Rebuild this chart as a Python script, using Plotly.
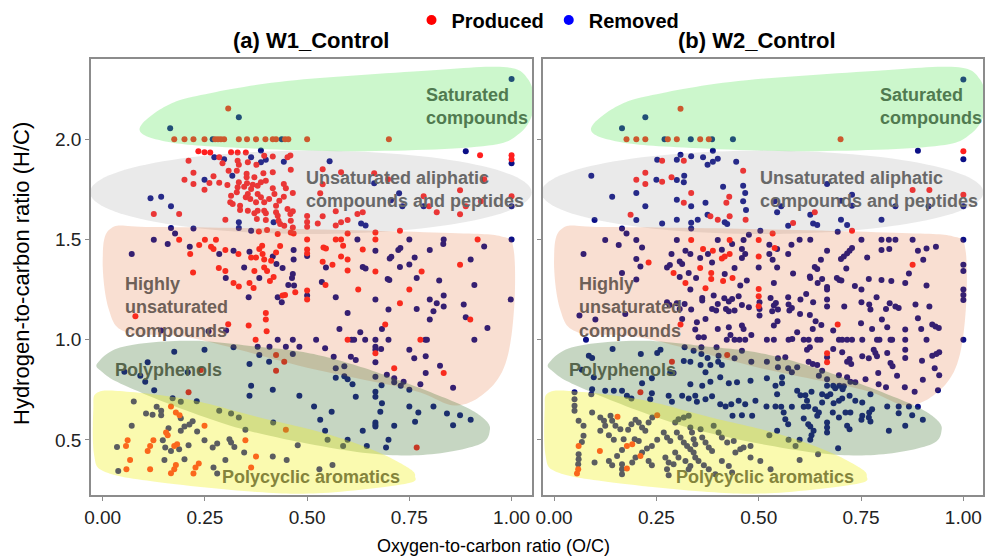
import numpy as np
import plotly.graph_objects as go

# ---------------- data (O/C, H/C) ----------------
w1_produced = [
    (0.307,2.153),(0.175,2.0),(0.2,2.0),(0.222,2.0),(0.249,2.0),(0.275,2.0),(0.282,2.0),(0.289,2.0),(0.297,2.0),
    (0.333,2.0),(0.353,2.0),(0.375,2.0),(0.398,2.0),(0.416,2.0),(0.424,2.0),(0.446,2.0),(0.454,2.0),(0.5,2.0),(0.7,2.0),
    (0.923,1.92),(1.0,1.92),(1.0,1.90),(0.538,1.85),(0.583,1.835),(0.664,1.83),(0.698,1.80),(0.933,1.80),(0.538,1.775),
    (0.532,1.73),(0.874,1.745),(0.785,1.715),(0.798,1.665),(0.817,1.635),(0.874,1.625),(0.888,1.665),(1.0,1.715),
    (0.925,1.69),(0.538,1.615),(0.57,1.64),(0.526,1.58),(0.57,1.57),(0.583,1.585),(0.599,1.597),(0.623,1.627),
    (0.636,1.635),(0.599,1.53),(0.667,1.535),(0.667,1.50),(0.57,1.5),(0.583,1.5),(0.727,1.543),(0.917,1.5),(0.54,1.46),
    (0.546,1.455),(0.588,1.468),(0.636,1.45),(0.583,1.415),(0.599,1.40),(0.538,1.388),(0.562,1.373),(0.599,1.345),
    (0.874,1.373),(0.667,1.34),(0.78,1.34),
    (0.234,1.94),(0.249,1.935),(0.263,1.933),(0.314,1.935),(0.33,1.933),(0.35,1.933),(0.395,1.917),(0.416,1.913),
    (0.459,1.918),(0.21,1.893),(0.285,1.91),(0.293,1.88),(0.33,1.893),(0.333,1.873),(0.355,1.885),(0.376,1.872),
    (0.416,1.835),(0.452,1.91),(0.46,1.847),(0.222,1.832),(0.308,1.843),(0.328,1.843),(0.352,1.827),(0.352,1.81),
    (0.371,1.81),(0.393,1.83),(0.271,1.815),(0.261,1.782),(0.285,1.783),(0.2,1.798),(0.222,1.777),(0.305,1.772),
    (0.333,1.785),(0.33,1.76),(0.328,1.735),(0.353,1.78),(0.346,1.763),(0.367,1.773),(0.379,1.768),(0.387,1.785),
    (0.399,1.793),(0.363,1.752),(0.355,1.727),(0.35,1.71),(0.361,1.702),(0.416,1.755),(0.42,1.727),(0.443,1.777),
    (0.448,1.755),(0.465,1.732),(0.249,1.748),(0.314,1.718),(0.379,1.727),(0.387,1.71),(0.375,1.685),(0.395,1.685),
    (0.407,1.702),(0.424,1.668),(0.432,1.693),(0.443,1.713),(0.312,1.685),(0.318,1.677),(0.336,1.668),(0.336,1.647),
    (0.355,1.643),(0.371,1.63),(0.379,1.643),(0.395,1.643),(0.399,1.63),(0.424,1.635),(0.428,1.618),(0.43,1.593),
    (0.452,1.652),(0.459,1.627),(0.465,1.64),(0.125,1.627),(0.187,1.627),(0.3,1.598),(0.377,1.602),(0.399,1.597),
    (0.434,1.577),(0.444,1.568),(0.46,1.593),(0.465,1.56),(0.382,1.54),(0.402,1.547),(0.428,1.527),(0.46,1.535),
    (0.467,1.53),(0.5,1.617),(0.5,1.587),(0.5,1.563),(0.5,1.5),(0.5,1.45),(0.5,1.43),
    (0.187,1.498),(0.214,1.427),(0.236,1.472),(0.25,1.498),(0.265,1.463),(0.271,1.452),(0.277,1.498),(0.3,1.447),
    (0.332,1.427),(0.363,1.41),(0.375,1.41),(0.383,1.452),(0.39,1.468),(0.391,1.427),(0.395,1.40),(0.412,1.393),
    (0.424,1.435),(0.434,1.467),(0.221,1.335),(0.284,1.357),(0.3,1.343),(0.371,1.343),(0.395,1.36),(0.402,1.343),
    (0.32,1.283),(0.333,1.265),(0.359,1.283),(0.369,1.258),(0.409,1.292),(0.418,1.312),(0.44,1.22),(0.446,1.223),
    (0.471,1.237),(0.5,1.245),(0.5,1.2),(0.08,1.117),(0.399,1.133),(0.399,1.10),(0.401,1.042),(0.357,1.07),
    (0.307,1.077),(0.374,1.0),(0.424,0.923),(0.444,0.89),(0.424,0.845),(0.24,0.848),(0.21,0.737),(0.167,0.667),
    (0.179,0.637),(0.188,0.623),(0.155,0.537),(0.159,0.523),(0.249,0.57),(0.061,0.498),(0.057,0.47),(0.124,0.498),
    (0.116,0.47),(0.11,0.445),(0.175,0.47),(0.182,0.478),(0.349,0.498),(0.448,0.55),(0.375,0.417),(0.067,0.40),
    (0.179,0.375),(0.175,0.353),(0.235,0.382),(0.227,0.362),(0.058,0.353),(0.116,0.353),(0.167,0.333),(0.222,0.332),
    (0.363,0.362),
    (0.545,1.273),(0.625,1.25),(0.75,1.25),(0.727,1.182),(0.899,1.10),(0.691,1.075),(0.599,1.0),(0.777,1.0),
    (0.667,0.932),(0.713,0.857),(0.834,0.833),(0.768,0.462),
]

w1_removed = [
    (0.333,2.11),(0.165,2.055),(1.0,2.3),(0.269,2.0),(0.438,2.0),
    (0.888,1.94),(1.0,1.88),(0.555,1.89),(0.664,1.78),(0.725,1.73),(0.733,1.665),(0.785,1.665),(1.0,1.665),
    (0.705,1.695),(0.632,1.58),(0.643,1.57),(0.623,1.5),(0.75,1.5),(0.834,1.5),(1.0,1.5),(0.933,1.465),(0.667,1.443),
    (0.723,1.447),(0.728,1.457),(0.80,1.447),(0.833,1.477),(0.702,1.405),(0.706,1.413),(0.763,1.41),(0.546,1.36),
    (0.636,1.363),(0.643,1.355),(0.727,1.363),(0.75,1.375),(0.9,1.40),
    (0.273,1.91),(0.387,1.943),(0.363,1.91),(0.297,1.90),(0.387,1.885),(0.399,1.897),(0.443,1.887),(0.317,1.818),
    (0.249,1.798),(0.117,1.705),(0.143,1.713),(0.167,1.665),(0.333,1.585),(0.333,1.557),(0.418,1.585),(0.363,1.543),
    (0.167,1.557),(0.177,1.53),(0.222,1.555),
    (0.125,1.498),(0.071,1.427),(0.159,1.477),(0.213,1.463),(0.285,1.427),(0.32,1.443),(0.359,1.438),(0.416,1.415),
    (0.467,1.447),(0.467,1.40),(0.346,1.36),(0.425,1.377),(0.44,1.357),(0.465,1.327),(0.5,1.417),
    (0.301,1.307),(0.357,1.212),(0.383,1.307),(0.428,1.212),(0.438,1.187),(0.454,1.273),(0.463,1.307),(0.468,1.27),
    (0.5,1.22),(0.302,1.045),(0.259,1.042),(0.143,1.045),(0.379,0.965),(0.408,0.965),(0.428,1.0),(0.448,0.965),
    (0.465,1.0),(0.481,0.965),(0.465,0.928),(0.407,0.89),(0.383,0.923),(0.32,0.962),(0.249,0.95),(0.175,0.94),
    (0.053,0.84),(0.11,0.887),(0.092,0.82),(0.104,0.79),(0.126,0.748),(0.208,0.837),(0.359,0.878),(0.363,0.77),
    (0.359,0.72),(0.416,0.75),(0.481,0.72),(0.23,0.693),(0.171,0.708),(0.191,0.69),(0.076,0.692),(0.132,0.665),
    (0.143,0.645),(0.106,0.632),(0.122,0.625),(0.143,0.623),(0.191,0.608),(0.285,0.645),(0.314,0.632),(0.333,0.612),
    (0.22,0.593),(0.212,0.577),(0.2,0.567),(0.191,0.545),(0.071,0.57),(0.161,0.558),(0.231,0.542),(0.349,0.55),
    (0.035,0.465),(0.147,0.498),(0.153,0.462),(0.167,0.445),(0.187,0.453),(0.21,0.473),(0.249,0.498),(0.269,0.462),
    (0.28,0.482),(0.31,0.503),(0.314,0.487),(0.322,0.465),(0.417,0.587),(0.346,0.437),(0.416,0.417),(0.45,0.40),
    (0.477,0.473),(0.151,0.40),(0.2,0.403),(0.3,0.40),(0.038,0.345),(0.271,0.362),(0.28,0.332),
    (0.536,1.287),(0.697,1.303),(0.701,1.298),(0.768,1.307),(0.823,1.295),(0.909,1.273),(0.57,1.212),(0.667,1.20),
    (0.8,1.20),(0.817,1.182),(0.834,1.22),(0.834,1.165),(0.883,1.175),(0.998,1.20),(0.599,1.133),(0.699,1.15),
    (0.768,1.153),(0.809,1.142),(0.8,1.10),(0.888,1.112),(0.941,1.058),(0.579,1.053),(0.683,1.053),(0.63,1.037),
    (0.522,1.0),(0.609,1.0),(0.615,1.0),(0.642,1.0),(0.667,1.0),(0.699,1.0),(0.789,1.0),(0.793,1.0),(0.909,1.0),
    (0.544,0.957),(0.667,0.965),(0.667,0.95),(0.681,0.953),(0.75,0.95),(0.565,0.915),(0.607,0.915),(0.619,0.898),
    (0.667,0.887),(0.762,0.907),(0.79,0.917),(0.591,0.867),(0.57,0.857),(0.825,0.87),(0.79,0.833),(0.57,0.81),
    (0.591,0.817),(0.599,0.803),(0.611,0.778),(0.667,0.815),(0.695,0.825),(0.713,0.808),(0.713,0.787),(0.729,0.77),
    (0.736,0.79),(0.75,0.75),(0.777,0.778),(0.857,0.76),(0.682,0.773),(0.667,0.74),(0.667,0.715),(0.619,0.715),
    (0.517,0.667),(0.683,0.683),(0.75,0.667),(0.809,0.667),(0.56,0.64),(0.679,0.64),(0.772,0.637),(0.842,0.632),
    (0.874,0.623),(0.9,0.60),(0.532,0.60),(0.667,0.587),(0.667,0.575),(0.667,0.567),(0.713,0.57),(0.764,0.59),
    (0.857,0.573),(0.544,0.545),(0.636,0.545),(0.599,0.5),(0.699,0.5),(0.55,0.5),(0.588,0.47),(0.646,0.47),
    (0.693,0.462),(0.53,0.353),(0.562,0.375),
]

w2_produced = [
    (0.309,2.152),(0.177,2.0),(0.201,2.0),(0.223,2.0),(0.278,2.0),(0.3,2.0),(0.357,2.0),(0.378,2.0),(0.7,2.0),
    (1.0,1.94),(0.876,1.747),(0.917,1.747),(1.0,1.723),(0.637,1.635),(0.584,1.582),(0.534,1.53),(0.539,1.457),
    (0.728,1.543),(0.876,1.373),
    (0.264,1.892),(0.317,1.893),(0.462,1.843),(0.223,1.832),(0.201,1.798),(0.223,1.777),(0.264,1.788),(0.287,1.81),
    (0.335,1.732),(0.317,1.683),(0.428,1.713),(0.421,1.683),(0.187,1.623),(0.382,1.615),(0.4,1.598),(0.429,1.615),
    (0.468,1.598),(0.5,1.497),(0.231,1.385),(0.335,1.497),(0.429,1.497),(0.364,1.452),(0.388,1.443),(0.41,1.405),
    (0.417,1.415),(0.429,1.427),(0.5,1.415),(0.292,1.332),(0.357,1.357),(0.384,1.332),(0.5,1.167),
    (0.321,1.283),(0.384,1.303),(0.413,1.292),(0.436,1.308),(0.5,1.253),(0.5,1.217),(0.37,1.257),
    (0.309,1.075),(0.423,0.923),(0.288,0.89),(0.211,0.737),(0.155,0.615),(0.252,0.623),(0.191,0.478),(0.178,0.47),
    (0.112,0.445),(0.06,0.47),(0.059,0.353),(0.056,0.332),(0.178,0.357),(0.211,0.42),
    (0.693,1.075),(0.667,0.932),(0.667,0.887),
]

w2_removed = [
    (0.223,2.11),(0.166,2.055),(0.27,2.0),(0.334,2.0),(0.386,2.0),(0.437,2.0),
    (0.388,1.942),(0.252,1.898),(0.30,1.898),(0.309,1.922),(0.335,1.915),(0.364,1.91),(0.375,1.873),(0.388,1.888),
    (0.40,1.902),(0.445,1.888),(0.091,1.817),(0.25,1.798),(0.30,1.797),(0.318,1.818),(0.317,1.785),(0.413,1.763),
    (0.462,1.768),(0.142,1.713),(0.201,1.732),(0.30,1.698),(0.335,1.665),(0.37,1.683),(0.467,1.732),(0.462,1.69),
    (0.223,1.665),(0.201,1.597),(0.099,1.597),(0.375,1.623),(0.469,1.647),(0.264,1.58),(0.30,1.598),(0.335,1.583),
    (0.335,1.555),(0.351,1.598),(0.417,1.585),(0.423,1.577),(0.166,1.555),(0.177,1.53),(0.476,1.523),(0.504,1.543),
    (0.125,1.497),(0.158,1.472),(0.201,1.497),(0.215,1.46),(0.072,1.427),(0.201,1.402),(0.211,1.365),(0.166,1.332),
    (0.30,1.497),(0.4,1.497),(0.463,1.497),(0.287,1.427),(0.321,1.443),(0.333,1.427),(0.357,1.407),(0.376,1.427),
    (0.41,1.448),(0.435,1.477),(0.459,1.452),(0.459,1.407),(0.467,1.427),(0.5,1.36),(0.283,1.372),(0.276,1.36),
    (0.307,1.39),(0.313,1.377),(0.329,1.332),(0.386,1.385),(0.441,1.357),(0.417,1.327),
    (1.0,2.298),(0.889,1.942),(1.0,1.90),(0.667,1.777),(1.0,1.665),(0.728,1.723),(0.701,1.693),(0.728,1.668),
    (0.539,1.69),(0.555,1.665),(0.545,1.635),(0.626,1.623),(0.633,1.58),(0.643,1.572),(0.572,1.568),(0.701,1.598),
    (0.716,1.572),(0.693,1.538),(0.8,1.598),(0.915,1.665),(0.834,1.665),
    (0.6,1.498),(0.626,1.498),(0.751,1.498),(0.8,1.498),(0.818,1.498),(0.834,1.498),(0.876,1.498),(1.0,1.498),
    (0.526,1.473),(0.545,1.452),(0.58,1.473),(0.572,1.427),(0.667,1.443),(0.701,1.402),(0.708,1.415),(0.716,1.43),
    (0.722,1.443),(0.728,1.457),(0.8,1.447),(0.819,1.452),(0.889,1.443),(0.91,1.455),(0.933,1.463),(0.526,1.427),
    (0.534,1.398),(0.652,1.398),(0.765,1.41),(0.902,1.398),(1.0,1.373),(1.0,1.343),(0.545,1.36),(0.637,1.363),
    (0.643,1.352),(0.714,1.355),(0.584,1.33),(0.625,1.315),(0.867,1.33),
    (0.201,1.30),(0.307,1.312),(0.347,1.307),(0.455,1.27),(0.471,1.295),(0.333,1.25),(0.362,1.208),(0.362,1.195),
    (0.39,1.22),(0.416,1.207),(0.427,1.19),(0.435,1.203),(0.451,1.217),(0.4,1.178),(0.276,1.187),(0.282,1.173),
    (0.30,1.182),(0.307,1.153),(0.319,1.178),(0.062,1.12),(0.101,1.10),(0.174,1.128),(0.313,1.103),(0.335,1.15),
    (0.37,1.103),(0.386,1.153),(0.396,1.145),(0.42,1.153),(0.427,1.142),(0.441,1.145),(0.459,1.173),(0.476,1.162),
    (0.502,1.187),(0.502,1.153),(0.502,1.12),(0.345,1.05),(0.349,1.087),(0.366,1.012),(0.353,1.012),(0.4,1.053),
    (0.427,1.062),(0.431,1.023),(0.422,1.0),(0.441,1.0),(0.453,1.0),(0.467,1.0),(0.459,1.07),(0.463,1.053),
    (0.482,1.023),(0.078,1.0),(0.143,0.953),(0.212,0.928),(0.26,0.95),(0.252,0.933),(0.319,0.962),(0.341,0.945),
    (0.36,0.962),(0.36,0.928),(0.375,0.908),(0.397,0.962),(0.402,0.92),(0.441,0.907),(0.459,0.945),(0.482,0.89),
    (0.085,0.92),(0.093,0.908),(0.068,0.85),(0.284,0.837),(0.292,0.833),(0.317,0.893),(0.333,0.89),(0.358,0.873),
    (0.37,0.837),(0.382,0.873),(0.401,0.89),(0.41,0.873),(0.097,0.812),(0.215,0.783),(0.239,0.807),(0.333,0.778),
    (0.362,0.77),(0.382,0.79),(0.406,0.812),(0.427,0.783),(0.447,0.787),(0.48,0.795),(0.093,0.753),(0.125,0.745),
    (0.146,0.745),(0.166,0.745),(0.178,0.72),(0.189,0.707),(0.239,0.733),(0.235,0.703),(0.28,0.72),(0.288,0.69),
    (0.313,0.72),(0.329,0.707),(0.345,0.72),(0.349,0.69),(0.37,0.703),(0.386,0.717),(0.406,0.678),(0.419,0.667),
    (0.433,0.678),(0.451,0.695),(0.467,0.678),(0.492,0.695),(0.436,0.62),(0.459,0.623),(0.484,0.62),
    (0.05,0.737),(0.05,0.703),(0.05,0.67),(0.05,0.645),(0.06,0.595),(0.091,0.728),(0.093,0.637),(0.113,0.612),
    (0.122,0.595),(0.125,0.57),(0.138,0.62),(0.142,0.595),(0.15,0.57),(0.113,0.545),(0.134,0.523),(0.146,0.50),
    (0.162,0.553),(0.17,0.503),(0.181,0.55),(0.189,0.578),(0.199,0.60),(0.207,0.587),(0.215,0.562),(0.223,0.545),
    (0.231,0.587),(0.24,0.612),(0.197,0.503),(0.207,0.495),(0.166,0.45),(0.154,0.42),(0.134,0.395),(0.142,0.373),
    (0.072,0.57),(0.072,0.52),(0.068,0.49),(0.06,0.428),(0.06,0.403),(0.059,0.378),(0.099,0.387),(0.166,0.378),
    (0.166,0.353),(0.166,0.328),(0.199,0.412),(0.191,0.387),(0.215,0.437),(0.227,0.457),(0.239,0.47),(0.252,0.50),
    (0.268,0.537),(0.276,0.512),(0.284,0.495),(0.296,0.587),(0.304,0.603),(0.317,0.612),(0.329,0.62),(0.3,0.537),
    (0.309,0.512),(0.317,0.487),(0.325,0.47),(0.333,0.453),(0.333,0.562),(0.337,0.537),(0.341,0.503),(0.345,0.478),
    (0.341,0.437),(0.345,0.412),(0.358,0.553),(0.362,0.512),(0.37,0.487),(0.378,0.462),(0.386,0.445),(0.39,0.57),
    (0.402,0.537),(0.41,0.512),(0.423,0.487),(0.439,0.495),(0.455,0.453),(0.48,0.412),(0.504,0.395),(0.443,0.437),
    (0.463,0.462),(0.48,0.47),(0.272,0.412),(0.28,0.387),(0.292,0.378),(0.276,0.353),(0.28,0.323),(0.231,0.395),
    (0.239,0.373),(0.296,0.437),(0.304,0.412),(0.321,0.395),(0.333,0.37),(0.353,0.395),(0.366,0.373),(0.378,0.353),
    (0.394,0.328),(0.41,0.395),(0.427,0.37),(0.435,0.337),(0.329,0.353),
    (0.537,1.283),(0.626,1.307),(0.655,1.303),(0.644,1.283),(0.667,1.262),(0.667,1.25),(0.691,1.307),(0.697,1.298),
    (0.702,1.295),(0.735,1.267),(0.751,1.25),(0.769,1.303),(0.8,1.298),(0.824,1.292),(0.858,1.283),(0.91,1.27),
    (1.0,1.25),(1.0,1.223),(1.0,1.198),(0.529,1.208),(0.542,1.183),(0.547,1.15),(0.537,1.17),(0.533,1.142),
    (0.572,1.212),(0.573,1.175),(0.602,1.2),(0.616,1.228),(0.581,1.158),(0.575,1.145),(0.633,1.187),(0.667,1.2),
    (0.667,1.165),(0.709,1.165),(0.751,1.187),(0.77,1.175),(0.773,1.15),(0.788,1.212),(0.811,1.153),(0.82,1.182),
    (0.834,1.165),(0.842,1.158),(0.883,1.175),(0.917,1.165),(0.601,1.128),(0.625,1.123),(0.546,1.092),(0.537,1.07),
    (0.639,1.092),(0.653,1.073),(0.75,1.082),(0.801,1.10),(0.814,1.062),(0.858,1.05),(0.889,1.107),(0.897,1.053),
    (0.924,1.075),(0.932,1.065),(0.94,1.058),(0.632,1.053),(0.594,1.037),(0.582,1.003),(0.682,1.045),(0.777,1.053),
    (0.52,1.0),(0.537,1.0),(0.573,1.0),(0.61,1.0),(0.622,1.0),(0.643,1.0),(0.651,1.0),(0.696,1.0),(0.704,1.0),
    (0.716,1.0),(0.728,1.0),(0.753,1.0),(0.789,1.0),(0.795,1.0),(0.822,1.0),(0.826,1.0),(0.858,1.0),(0.91,1.0),
    (1.0,1.0),(0.625,0.962),(0.618,0.95),(0.667,0.912),(0.682,0.953),(0.704,0.937),(0.716,0.89),(0.722,0.903),
    (0.726,0.878),(0.753,0.917),(0.769,0.907),(0.785,0.933),(0.789,0.917),(0.781,0.95),(0.814,0.933),(0.822,0.883),
    (0.827,0.867),(0.858,0.95),(0.858,0.908),(0.899,0.895),(0.924,0.92),(0.934,0.928),(0.941,0.937),(0.52,0.89),
    (0.547,0.907),(0.565,0.912),(0.547,0.862),(0.572,0.857),(0.594,0.862),(0.581,0.837),(0.622,0.89),(0.632,0.878),
    (0.643,0.873),(0.655,0.845),(0.647,0.82),(0.696,0.823),(0.716,0.812),(0.724,0.79),(0.736,0.787),(0.761,0.803),
    (0.792,0.833),(0.793,0.778),(0.811,0.762),(0.838,0.82),(0.857,0.762),(0.881,0.74),(0.901,0.8),(0.93,0.857),
    (0.941,0.823),(0.938,0.748),(0.52,0.807),(0.557,0.812),(0.541,0.77),(0.545,0.728),(0.557,0.783),(0.594,0.745),
    (0.602,0.723),(0.614,0.723),(0.618,0.695),(0.629,0.74),(0.667,0.803),(0.667,0.77),(0.682,0.77),(0.687,0.757),
    (0.697,0.77),(0.705,0.753),(0.708,0.767),(0.655,0.728),(0.667,0.717),(0.675,0.728),(0.722,0.72),(0.736,0.695),
    (0.753,0.687),(0.773,0.728),(0.683,0.683),(0.696,0.695),(0.704,0.707),(0.814,0.667),(0.842,0.667),(0.867,0.667),
    (0.889,0.665),(0.519,0.667),(0.541,0.667),(0.555,0.665),(0.581,0.665),(0.655,0.687),(0.638,0.653),(0.647,0.637),
    (0.643,0.62),(0.61,0.665),(0.621,0.667),(0.681,0.637),(0.712,0.637),(0.724,0.637),(0.753,0.62),(0.77,0.637),
    (0.777,0.653),(0.561,0.637),(0.565,0.603),(0.572,0.578),(0.61,0.607),(0.621,0.578),(0.626,0.567),(0.667,0.587),
    (0.667,0.562),(0.667,0.537),(0.696,0.612),(0.716,0.57),(0.722,0.553),(0.751,0.6),(0.769,0.612),(0.773,0.592),
    (0.842,0.633),(0.858,0.57),(0.875,0.623),(0.901,0.6),(0.545,0.545),(0.526,0.523),(0.634,0.545),(0.629,0.523),
    (0.573,0.5),(0.6,0.5),(0.626,0.5),(0.818,0.545),(0.694,0.458),(0.59,0.47),(0.645,0.428),(0.6,0.40),(0.529,0.353),
]

x_tick_vals = [0.0, 0.25, 0.5, 0.75, 1.0]
x_tick_text = ["0.00", "0.25", "0.50", "0.75", "1.00"]
y_tick_vals = [0.5, 1.0, 1.5, 2.0]
y_tick_text = ["0.5", "1.0", "1.5", "2.0"]
panel_titles = ["<b>(a) W1_Control</b>", "<b>(b) W2_Control</b>"]

# ------------- compound-class regions (outline control points, O/C, H/C) -------------
green_outline = [(0.09,2.05),(0.15,2.16),(0.24,2.22),(0.45,2.29),(0.78,2.34),(0.98,2.36),(1.04,2.30),
                 (1.055,2.16),(1.02,2.03),(0.93,1.965),(0.62,1.94),(0.30,1.96),(0.15,1.99)]
peach_outline = [(0.02,1.555),(0.12,1.562),(0.48,1.552),(0.85,1.532),(0.975,1.515),(1.005,1.45),(1.006,1.15),
                 (0.985,0.88),(0.935,0.735),(0.86,0.672),(0.754,0.75),(0.5,0.86),(0.214,1.01),(0.06,1.035),
                 (0.015,1.15),(0.0,1.40)]
sage_outline = [(-0.012,0.885),(0.05,0.965),(0.213,0.995),(0.377,0.965),(0.499,0.935),(0.622,0.87),
                (0.754,0.775),(0.876,0.675),(0.93,0.61),(0.947,0.55),(0.918,0.475),(0.783,0.425),
                (0.622,0.44),(0.377,0.535),(0.213,0.64),(0.05,0.775),(-0.002,0.84)]
yellow_outline = [(-0.014,0.735),(0.05,0.742),(0.214,0.70),(0.377,0.615),(0.539,0.535),(0.661,0.45),
                  (0.744,0.365),(0.764,0.32),(0.739,0.28),(0.539,0.235),(0.377,0.24),(0.133,0.29),
                  (0.006,0.34),(-0.021,0.425),(-0.023,0.65)]
gray_center, gray_axes = (0.509, 1.735), (0.54, 0.208)

REMOVED_COLOR = "#0b0f86"
PRODUCED_COLOR = "#ff1e1e"
FONT = "Liberation Sans, Arial, sans-serif"


def closed_spline_path(pts, n=14):
    p = np.array(pts, dtype=float)
    m = len(p)
    out = []
    for i in range(m):
        p0, p1, p2, p3 = p[(i - 1) % m], p[i], p[(i + 1) % m], p[(i + 2) % m]
        for t in np.linspace(0, 1, n, endpoint=False):
            t2, t3 = t * t, t * t * t
            out.append(0.5 * (2 * p1 + (-p0 + p2) * t + (2 * p0 - 5 * p1 + 4 * p2 - p3) * t2
                              + (-p0 + 3 * p1 - 3 * p2 + p3) * t3))
    return "M " + " L ".join(f"{q[0]:.4f},{q[1]:.4f}" for q in out) + " Z"


def ellipse_path(c, ax, n=120):
    th = np.linspace(0, 2 * np.pi, n, endpoint=False)
    xs = c[0] + ax[0] * np.cos(th)
    ys = c[1] + ax[1] * np.sin(th)
    return "M " + " L ".join(f"{a:.4f},{b:.4f}" for a, b in zip(xs, ys)) + " Z"


fig = go.Figure()
panels = [(w1_produced, w1_removed, "x", "y"), (w2_produced, w2_removed, "x2", "y2")]
for prod, rem, xa, ya in panels:
    fig.add_trace(go.Scatter(x=[p[0] for p in rem], y=[p[1] for p in rem], mode="markers",
                             marker=dict(color=REMOVED_COLOR, size=6), xaxis=xa, yaxis=ya,
                             showlegend=False, hoverinfo="skip"))
    fig.add_trace(go.Scatter(x=[p[0] for p in prod], y=[p[1] for p in prod], mode="markers",
                             marker=dict(color=PRODUCED_COLOR, size=6), xaxis=xa, yaxis=ya,
                             showlegend=False, hoverinfo="skip"))

# legend-only entries
fig.add_trace(go.Scatter(x=[None], y=[None], mode="markers", name="<b>Produced</b>",
                         marker=dict(color="#ff0000", size=10)))
fig.add_trace(go.Scatter(x=[None], y=[None], mode="markers", name="<b>Removed</b>",
                         marker=dict(color="#0000ff", size=10)))

shapes = []
annotations = []
region_styles = [
    ("green", "rgba(85,228,85,0.30)"),
    ("gray", "rgba(150,150,150,0.20)"),
    ("peach", "rgba(225,95,30,0.20)"),
    ("sage", "rgba(65,118,52,0.30)"),
    ("yellow", "rgba(241,241,26,0.35)"),
]
paths = {
    "green": closed_spline_path(green_outline),
    "gray": ellipse_path(gray_center, gray_axes),
    "peach": closed_spline_path(peach_outline),
    "sage": closed_spline_path(sage_outline),
    "yellow": closed_spline_path(yellow_outline),
}
labels = [
    ("Saturated<br>compounds", 0.786, 2.163, "#507a50"),
    ("Unsaturated aliphatic<br>compounds and peptides", 0.492, 1.748, "#686868"),
    ("Highly<br>unsaturated<br>compounds", 0.05, 1.16, "#6e6058"),
    ("Polyphenols", 0.025, 0.85, "#56654c"),
    ("Polycyclic aromatics", 0.287, 0.315, "#84843c"),
]
for xa, ya, dx in [("x", "y", 0.0), ("x2", "y2", 0.006)]:
    for name, col in region_styles:
        shapes.append(dict(type="path", path=paths[name], xref=xa, yref=ya, fillcolor=col,
                           line=dict(width=0), layer="above"))
    for txt, lx, ly, col in labels:
        annotations.append(dict(text=f"<b>{txt}</b>", x=lx + dx, y=ly, xref=xa, yref=ya,
                                xanchor="left", yanchor="middle", align="left", showarrow=False,
                                font=dict(family=FONT, size=18, color=col)))

# panel titles
for txt, cx in zip(panel_titles, [311, 757]):
    annotations.append(dict(text=txt, x=cx / 987, y=1 - 41 / 558, xref="paper", yref="paper",
                            xanchor="center", yanchor="middle", showarrow=False,
                            font=dict(family=FONT, size=22, color="black")))
# axis titles
annotations.append(dict(text="Oxygen-to-carbon ratio (O/C)", x=493 / 987, y=1 - 546 / 558,
                        xref="paper", yref="paper", xanchor="center", yanchor="middle", showarrow=False,
                        font=dict(family=FONT, size=18, color="black")))
annotations.append(dict(text="Hydrogen-to-carbon ratio (H/C)", x=21 / 987, y=1 - 274 / 558,
                        xref="paper", yref="paper", xanchor="center", yanchor="middle", showarrow=False,
                        textangle=-90, font=dict(family=FONT, size=22, color="black")))

axis_common = dict(showgrid=False, zeroline=False, showline=True, mirror=True, linecolor="#8c8c8c",
                   linewidth=1.5, ticks="outside", ticklen=4, tickcolor="#8c8c8c", automargin=False,
                   tickfont=dict(family=FONT, size=19, color="#222222"))
ydom = [1 - 495 / 558, 1 - 59 / 558]
fig.update_layout(
    width=987, height=558, margin=dict(l=0, r=0, t=0, b=0, autoexpand=False),
    paper_bgcolor="white", plot_bgcolor="white",
    xaxis=dict(domain=[91 / 987, 532 / 987], range=[-0.0286, 1.05], anchor="y",
               tickvals=x_tick_vals, ticktext=x_tick_text, **axis_common),
    yaxis=dict(domain=ydom, range=[0.225, 2.4], anchor="x",
               tickvals=y_tick_vals, ticktext=y_tick_text, **axis_common),
    xaxis2=dict(domain=[543 / 987, 983 / 987], range=[-0.027, 1.048], anchor="y2",
                tickvals=x_tick_vals, ticktext=x_tick_text, **axis_common),
    yaxis2=dict(domain=ydom, range=[0.225, 2.4], anchor="x2", showticklabels=False,
                tickvals=y_tick_vals, **axis_common),
    shapes=shapes, annotations=annotations,
    legend=dict(orientation="h", x=548 / 987, xanchor="center", y=1 - 20 / 558, yanchor="middle",
                font=dict(family=FONT, size=20, color="black"), bgcolor="rgba(0,0,0,0)",
                itemwidth=30, tracegroupgap=0),
    showlegend=True,
)
fig.write_html("out.html", config={"displayModeBar": False},
               post_script="document.body.style.margin='0';document.body.style.overflow='hidden';")
